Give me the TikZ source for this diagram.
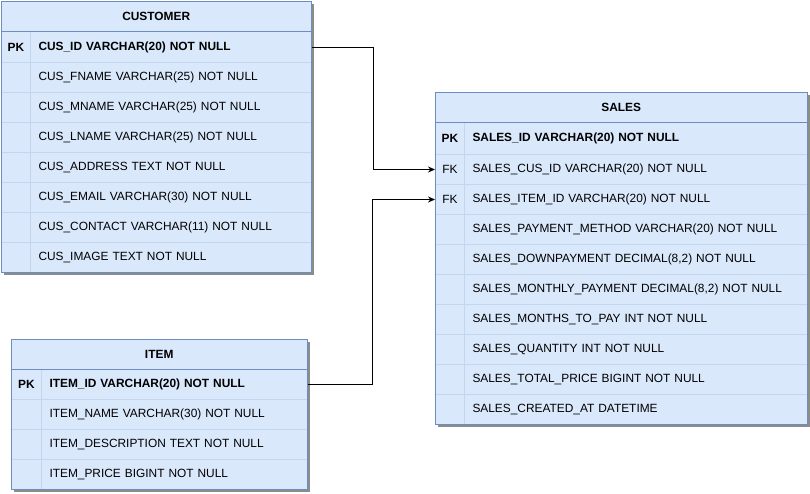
\documentclass[tikz,border=0pt]{standalone}
\usepackage{fontspec}
\setmainfont{Liberation Sans}
\usetikzlibrary{arrows.meta}
\definecolor{fillb}{HTML}{DAE8FC}
\definecolor{strokeb}{HTML}{6C8EBF}
\definecolor{sepb}{HTML}{C4D6EF}
\definecolor{shadowc}{HTML}{8C8C8C}
\newcommand\fs{\fontsize{11.9}{14}\selectfont}
\newcommand\erdtab[9]{%
  % #1 name, #2 x, #3 y, #4 width, #5 key width, #6 rows count, #7 title, #8 rows, #9 extra height of first row
  \fill[shadowc] (#2+3,#3+3) rectangle ++(#4,30+30*#6+#9);
  \fill[fillb] (#2,#3) rectangle ++(#4,30+30*#6+#9);
  \node[headcell, minimum width=#4] (#1-h) at (#2,#3) {#7};
  \pgfmathsetmacro\nmw{#4-#5-16}
  \foreach \k/\t/\fw [count=\i] in {#8} {
    \ifnum\i=1
      \node[keycell, minimum width=#5, minimum height=30+#9] (#1-k\i) at (#2,#3+30) {\fw\k};
      \node[namecell, text width=\nmw pt, minimum height=30+#9] (#1-r\i) at (#2+#5,#3+30) {\fw\t};
    \else
      \node[keycell, minimum width=#5] (#1-k\i) at (#2,#3+30*\i+#9) {\fw\k};
      \node[namecell, text width=\nmw pt] (#1-r\i) at (#2+#5,#3+30*\i+#9) {\fw\t};
    \fi
  }
  \draw[strokeb, line width=1pt] (#2,#3+30) -- ++(#4,0);
  \draw[strokeb, line width=1pt] (#2,#3) rectangle ++(#4,30+30*#6+#9);
}
\begin{document}
\begin{tikzpicture}[x=1pt,y=-1pt,
  headcell/.style={inner sep=0pt, minimum height=30pt, anchor=north west, font=\fs\bfseries},
  keycell/.style={draw=sepb, line width=1pt, inner sep=0pt, minimum height=30pt, anchor=north west, font=\fs},
  namecell/.style={draw=sepb, line width=1pt, inner xsep=8pt, inner ysep=0pt, minimum height=30pt, anchor=north west, align=left, font=\fs},
  conn/.style={draw=black, line width=1pt, -{Stealth[length=7pt,width=6pt]}}]
\useasboundingbox (0,0) rectangle (810,493);

\erdtab{cust}{1}{1}{310}{29}{8}{CUSTOMER}{%
  PK/{CUS\_ID VARCHAR(20) NOT NULL}/\bfseries,
  {}/{CUS\_FNAME VARCHAR(25) NOT NULL}/\relax,
  {}/{CUS\_MNAME VARCHAR(25) NOT NULL}/\relax,
  {}/{CUS\_LNAME VARCHAR(25) NOT NULL}/\relax,
  {}/{CUS\_ADDRESS TEXT NOT NULL}/\relax,
  {}/{CUS\_EMAIL VARCHAR(30) NOT NULL}/\relax,
  {}/{CUS\_CONTACT VARCHAR(11) NOT NULL}/\relax,
  {}/{CUS\_IMAGE TEXT NOT NULL}/\relax}{1}

\erdtab{item}{11}{339}{296}{30}{4}{ITEM}{%
  PK/{ITEM\_ID VARCHAR(20) NOT NULL}/\bfseries,
  {}/{ITEM\_NAME VARCHAR(30) NOT NULL}/\relax,
  {}/{ITEM\_DESCRIPTION TEXT NOT NULL}/\relax,
  {}/{ITEM\_PRICE BIGINT NOT NULL}/\relax}{0}

\erdtab{sales}{435}{92}{372}{29}{10}{SALES}{%
  PK/{SALES\_ID VARCHAR(20) NOT NULL}/\bfseries,
  FK/{SALES\_CUS\_ID VARCHAR(20) NOT NULL}/\relax,
  FK/{SALES\_ITEM\_ID VARCHAR(20) NOT NULL}/\relax,
  {}/{SALES\_PAYMENT\_METHOD VARCHAR(20) NOT NULL}/\relax,
  {}/{SALES\_DOWNPAYMENT DECIMAL(8,2) NOT NULL}/\relax,
  {}/{SALES\_MONTHLY\_PAYMENT DECIMAL(8,2) NOT NULL}/\relax,
  {}/{SALES\_MONTHS\_TO\_PAY INT NOT NULL}/\relax,
  {}/{SALES\_QUANTITY INT NOT NULL}/\relax,
  {}/{SALES\_TOTAL\_PRICE BIGINT NOT NULL}/\relax,
  {}/{SALES\_CREATED\_AT DATETIME}/\relax}{2}

\draw[conn] (cust-r1.east) -- ++(61.5,0) |- (sales-k2.west);
\draw[conn] (item-r1.east) -- ++(64,0) |- (sales-k3.west);
\end{tikzpicture}
\end{document}
